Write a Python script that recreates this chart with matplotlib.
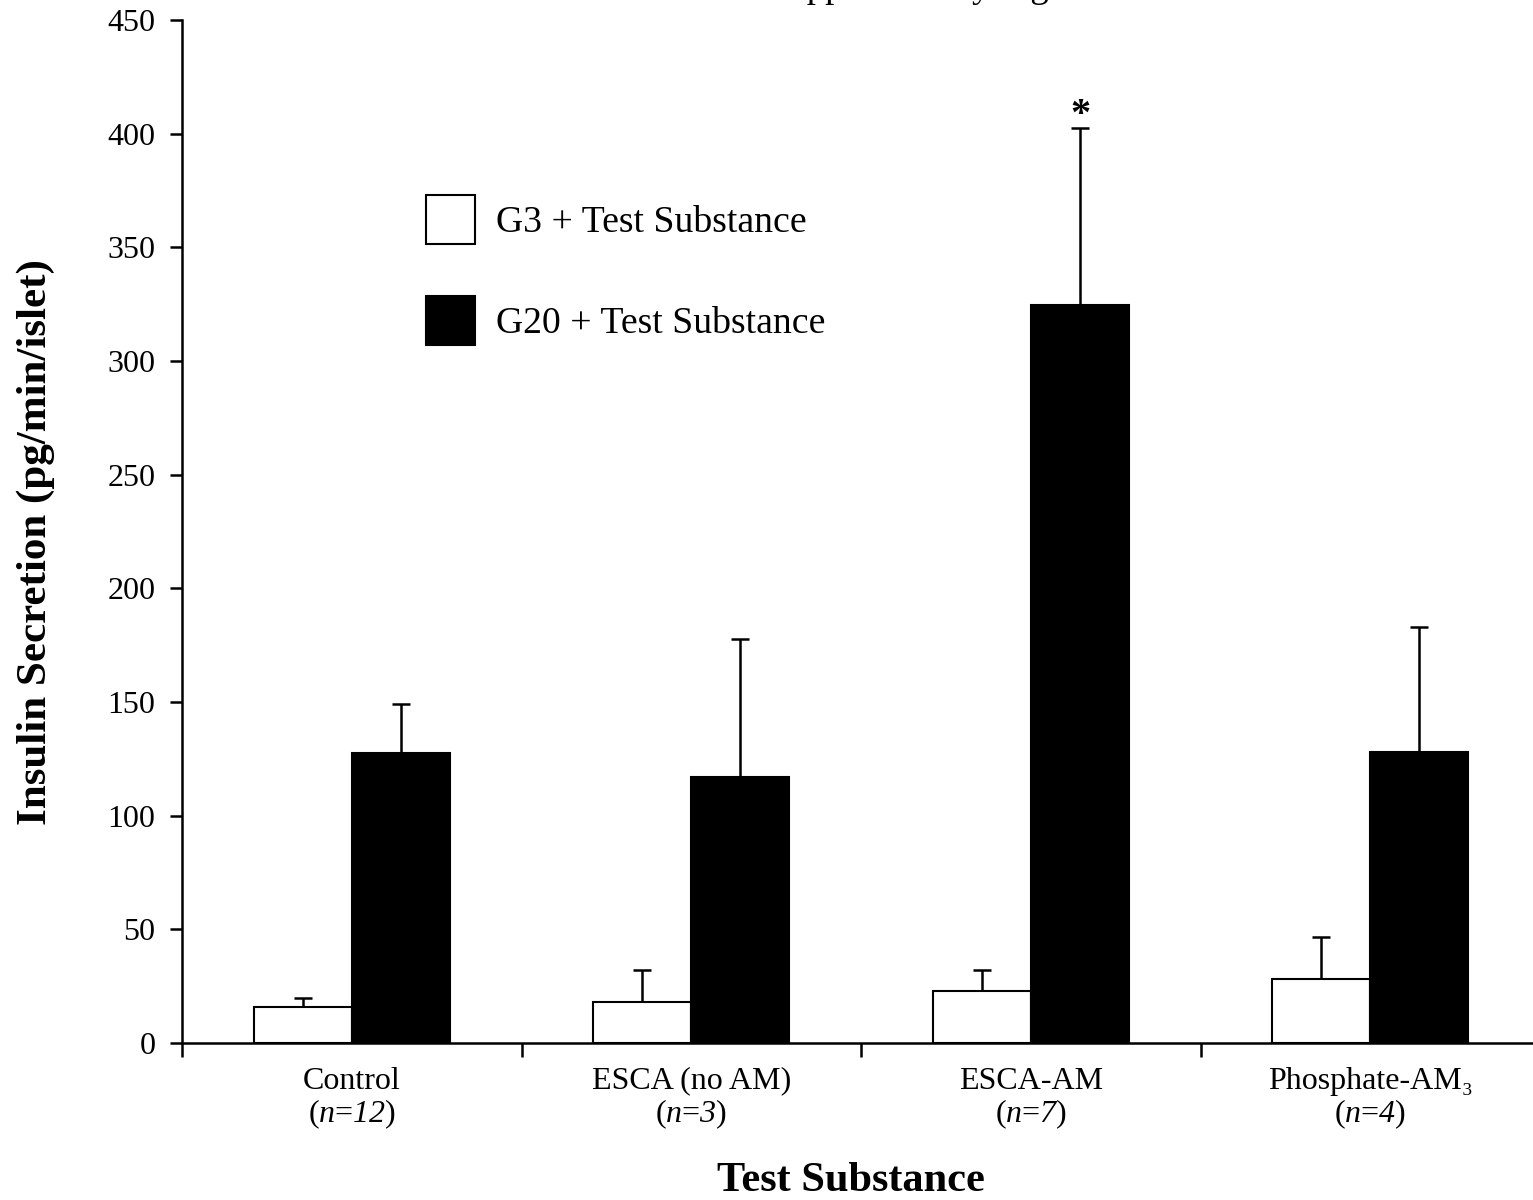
import numpy as np
from matplotlib import pyplot as plt

plt.rcParams['font.family'] = ['Liberation Serif', 'DejaVu Serif']
plt.rcParams['mathtext.fontset'] = 'custom'
plt.rcParams['mathtext.rm'] = 'Liberation Serif'
# sf slot is used as a plain italic so digits come out slanted too
plt.rcParams['mathtext.sf'] = 'Liberation Serif:italic'

# data
categories = ['Control', 'ESCA (no AM)', 'ESCA-AM', 'Phosphate-AM\u2083']
n_counts = ['12', '3', '7', '4']
g3_mean = [16, 18, 23, 28]
g3_err = [4, 14, 9, 18.5]
g20_mean = [127.5, 117, 324.5, 128]
g20_err = [21.5, 60.5, 78, 55]
star_label = '*'

fig = plt.figure(figsize=(15.33, 12), dpi=100)
ax = fig.add_axes([182/1533, 1 - 1043/1200, 1 - 182/1533, (1043 - 20)/1200])

x = np.arange(len(categories)) + 0.5
w = 0.289
off = 0.1445

ax.bar(x - off, g3_mean, w, color='white', edgecolor='black', linewidth=1.5,
       label='G3 + Test Substance', zorder=2)
ax.bar(x + off, g20_mean, w, color='black', edgecolor='black', linewidth=1.5,
       label='G20 + Test Substance', zorder=2)
ax.errorbar(x - off, g3_mean, yerr=[np.zeros(len(g3_err)), g3_err], fmt='none',
            ecolor='black', elinewidth=1.8, capsize=6.5, capthick=1.8, zorder=1)
ax.errorbar(x + off, g20_mean, yerr=[np.zeros(len(g20_err)), g20_err], fmt='none',
            ecolor='black', elinewidth=1.8, capsize=6.5, capthick=1.8, zorder=1)

# significance star over ESCA-AM G20
ax.text(x[2] + off, g20_mean[2] + g20_err[2] - 2.5, star_label, ha='center', va='bottom',
        fontsize=29, fontweight='bold')

ax.set_xlim(0, 3.979)
ax.set_ylim(0, 450)
ax.set_yticks(np.arange(0, 451, 50))
ax.set_xticks(np.arange(0, 4))
ax.set_xticklabels([])
ax.set_xticks(x, minor=True)
labels = [c + '\n($\\mathsf{n}$=$\\mathsf{' + n + '}$)' for c, n in zip(categories, n_counts)]
ax.set_xticklabels(labels, minor=True, fontsize=23, linespacing=1.08)
ax.tick_params(axis='x', which='minor', length=0, pad=17)
ax.tick_params(axis='x', which='major', direction='out', length=10, width=1.8)
ax.tick_params(axis='y', direction='out', length=9, width=1.8, labelsize=23, pad=10)

for s in ['top', 'right']:
    ax.spines[s].set_visible(False)
for s in ['left', 'bottom']:
    ax.spines[s].set_linewidth(1.8)

ax.set_ylabel('Insulin Secretion (pg/min/islet)', fontsize=31, fontweight='bold')
ax.yaxis.set_label_coords(-0.094, 0.49)
ax.set_xlabel('Test Substance', fontsize=30.5, fontweight='bold')
ax.xaxis.set_label_coords(0.495, -0.1166)

ax.legend(loc='upper left', bbox_to_anchor=(426/1533, 1 - 195/1200),
          bbox_transform=fig.transFigure, frameon=False, fontsize=27.2,
          handlelength=1.3, handleheight=1.6, handletextpad=0.55,
          labelspacing=1.4, borderpad=0, borderaxespad=0)

# title sits mostly above the page edge, only descenders show
fig.text(768/1533, 1.0025, 'Supplementary Figure 1', fontsize=26.5, va='baseline', ha='left')

fig.savefig('out.png', dpi=100)
